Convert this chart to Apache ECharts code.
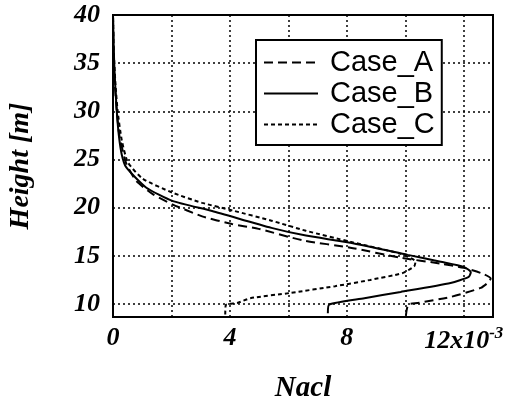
<!DOCTYPE html>
<html>
<head>
<meta charset="utf-8">
<script src="https://cdn.jsdelivr.net/npm/echarts@6/dist/echarts.min.js"></script>
<style>html,body{margin:0;padding:0;background:#fff}#c{width:515px;height:401px}</style>
</head>
<body>
<div id="c"></div>
<script>
// NaCl values are in units of 10^-3
const seriesNames = ['Case_A', 'Case_B', 'Case_C'];
const naclA   = [10.02, 10.1, 10.42, 11.55, 12.58, 12.86, 12.92, 12.6, 12.0, 11.2, 9.84, 8.12, 6.5, 4.98, 4.07, 3.05, 2.03, 1.36, 0.79, 0.45, 0.22, 0.13, 0.06, 0.02, 0.0];
const heightA = [8.8, 9.95, 10.1, 10.73, 11.67, 12.3, 12.65, 13.2, 13.75, 14.2, 14.8, 15.85, 16.6, 17.8, 18.3, 19.1, 20.35, 21.4, 22.8, 24.6, 27.5, 30, 33, 36, 40];
const naclB   = [7.35, 7.4, 8.6, 9.84, 11.55, 12.17, 12.24, 12.0, 11.21, 10.08, 8.12, 6.6, 5.42, 3.39, 2.03, 1.13, 0.45, 0.3, 0.2, 0.13, 0.07, 0.03, 0.0];
const heightB = [9.05, 9.95, 10.6, 11.25, 12.19, 12.81, 13.3, 13.85, 14.38, 15.1, 16.35, 17.1, 17.9, 19.65, 20.7, 22.1, 24.2, 25.5, 27.5, 30, 33, 36, 40];
const naclC   = [3.84, 3.86, 4.25, 4.7, 6.07, 7.6, 8.8, 9.9, 10.3, 10.35, 9.84, 8.12, 6.6, 5.42, 4.1, 3.05, 2.03, 1.02, 0.51, 0.3, 0.16, 0.08, 0.03, 0.0];
const heightC = [8.9, 9.9, 10.1, 10.6, 11.15, 11.85, 12.5, 13.2, 13.9, 14.4, 15.2, 16.46, 17.6, 18.65, 19.7, 20.5, 21.56, 23.0, 24.7, 27.0, 30, 33, 36, 40];
const yTicks = [10, 15, 20, 25, 30, 35, 40];
const xLabels = {0: '0', 4: '4', 8: '8', 12: '{b|12x10}{s|-3}'};

const pairs = (xs, ys) => xs.map((x, i) => [x, ys[i]]);
const dashes = [[9, 5], 'solid', [4, 3]];
const datasets = [pairs(naclA, heightA), pairs(naclB, heightB), pairs(naclC, heightC)];

const labelFont = {color: '#000', fontFamily: 'Liberation Serif', fontStyle: 'italic', fontWeight: 'bold', fontSize: 26};
const gridLine = {show: true, lineStyle: {color: '#000', type: [2, 3], width: 1.5}};

const chart = echarts.init(document.getElementById('c'), null, {renderer: 'canvas'});
chart.setOption({
  animation: false,
  backgroundColor: '#fff',
  grid: {left: 113, right: 22, top: 15, bottom: 84, show: true, borderColor: '#000', borderWidth: 2,
         backgroundColor: 'transparent', outerBoundsMode: 'none', containLabel: false},
  xAxis: {
    type: 'value', min: 0, max: 13, interval: 2,
    name: 'Nacl', nameLocation: 'middle', nameGap: 57,
    nameTextStyle: Object.assign({}, labelFont, {fontSize: 29}),
    axisLine: {show: true, lineStyle: {color: '#000', width: 2}},
    axisTick: {show: false},
    splitLine: gridLine,
    axisLabel: Object.assign({}, labelFont, {
      margin: 8,
      showMaxLabel: false,
      formatter: v => { const k = Math.round(v); return xLabels[k] !== undefined ? xLabels[k] : ''; },
      rich: {
        b: labelFont,
        s: Object.assign({}, labelFont, {fontSize: 17, padding: [0, 0, 15, 0]})
      }
    })
  },
  yAxis: {
    type: 'value', min: 8.65, max: 40,
    name: 'Height [m]', nameLocation: 'middle', nameGap: 78, nameRotate: 90,
    nameTextStyle: Object.assign({}, labelFont, {fontSize: 28}),
    axisLine: {show: true, lineStyle: {color: '#000', width: 2}},
    axisTick: {show: false, customValues: yTicks},
    splitLine: gridLine,
    axisLabel: Object.assign({}, labelFont, {margin: 13, customValues: yTicks})
  },
  legend: {
    show: true, orient: 'vertical', left: 256, top: 40,
    backgroundColor: '#fff', borderColor: '#000', borderWidth: 2,
    padding: [8, 7, 6, 7], itemGap: 2, itemWidth: 54, itemHeight: 14,
    itemStyle: {color: 'transparent', borderWidth: 0, opacity: 0},
    textStyle: {color: '#000', fontFamily: 'Liberation Sans', fontSize: 29, padding: [0, 0, 0, 7]},
    data: seriesNames
  },
  series: seriesNames.map((n, i) => ({
    name: n, type: 'line', data: datasets[i], showSymbol: false, symbol: 'none',
    smooth: 0.2, clip: true,
    lineStyle: {color: '#000', width: 2, type: dashes[i]},
    itemStyle: {color: '#000'}
  }))
});
</script>
</body>
</html>
